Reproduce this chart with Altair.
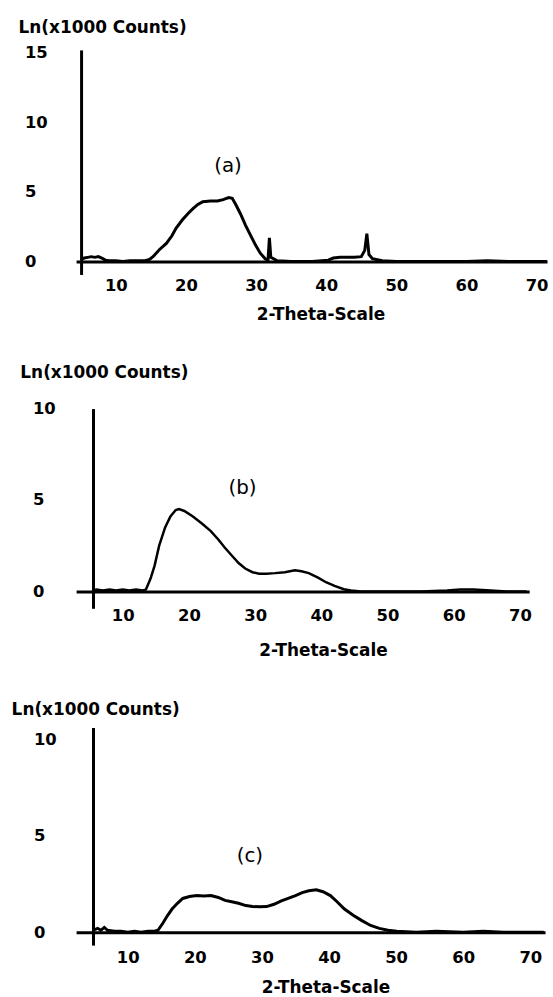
import altair as alt
import pandas as pd

# ---------------- data ----------------
a_theta = [5.0, 5.5, 6.0, 6.5, 7.0, 7.5, 8.0, 8.5, 9.0, 10.0, 11.0, 12.0, 13.0, 14.0,
           14.8, 15.3, 16.2, 17.2, 18.0, 18.6, 19.5, 20.3, 21.0, 21.7, 22.4, 23.5, 24.5,
           25.3, 26.1, 26.6, 27.1, 27.8, 28.5, 29.2, 29.9, 30.6, 31.3, 31.7, 31.9, 32.1,
           32.5, 33.0, 35.0, 38.0, 40.3, 41.0, 42.0, 43.0, 44.0, 45.0, 45.5, 45.8, 46.1,
           46.6, 48.0, 50.0, 55.0, 60.0, 63.0, 66.0, 71.5]
a_counts = [0.15, 0.25, 0.3, 0.35, 0.3, 0.35, 0.25, 0.1, 0.05, 0.05, 0.0, 0.05, 0.05, 0.05,
            0.15, 0.35, 0.85, 1.3, 1.85, 2.4, 3.0, 3.45, 3.8, 4.1, 4.3, 4.35, 4.35,
            4.45, 4.6, 4.55, 4.1, 3.4, 2.6, 1.9, 1.2, 0.6, 0.2, 0.1, 1.7, 0.3,
            0.2, 0.05, 0.0, 0.0, 0.1, 0.25, 0.3, 0.3, 0.3, 0.35, 0.8, 2.0, 0.5,
            0.2, 0.05, 0.0, 0.0, 0.0, 0.05, 0.0, 0.0]

b_theta = [5.5, 6.0, 7.0, 8.0, 9.0, 10.0, 11.0, 12.0, 13.0, 13.5, 14.2, 14.8, 15.5, 16.4,
           17.2, 18.0, 18.5, 19.3, 20.6, 22.0, 23.3, 24.4, 25.4, 26.5, 27.5, 28.5, 29.6,
           30.6, 31.7, 33.0, 34.5, 36.0, 37.0, 38.1, 39.5, 40.7, 42.0, 43.4, 44.5, 46.0,
           50.0, 55.0, 59.0, 61.0, 63.0, 65.6, 68.0, 71.0]
b_counts = [0.05, 0.1, 0.05, 0.1, 0.05, 0.1, 0.05, 0.1, 0.05, 0.1, 0.7, 1.4, 2.5, 3.5,
            4.1, 4.45, 4.5, 4.4, 4.1, 3.7, 3.3, 2.85, 2.4, 1.95, 1.55, 1.25, 1.05,
            0.97, 0.97, 1.0, 1.05, 1.15, 1.1, 1.0, 0.75, 0.5, 0.3, 0.12, 0.05, 0.0,
            0.0, 0.0, 0.05, 0.1, 0.1, 0.05, 0.0, 0.0]

c_theta = [4.8, 5.5, 6.0, 6.5, 7.0, 8.0, 9.0, 10.0, 11.0, 12.0, 13.0, 14.0, 14.5, 15.2,
           15.9, 16.6, 17.4, 18.2, 19.2, 20.3, 21.3, 22.4, 23.5, 24.5, 25.5, 26.5, 27.6,
           28.6, 29.7, 30.7, 31.8, 32.9, 33.9, 35.0, 36.0, 37.0, 38.1, 39.1, 40.2, 41.2,
           42.3, 43.6, 44.9, 46.2, 47.5, 48.8, 50.1, 53.0, 56.0, 60.0, 63.0, 66.0, 72.0]
c_counts = [0.1, 0.2, 0.1, 0.25, 0.1, 0.05, 0.05, 0.0, 0.05, 0.0, 0.05, 0.05, 0.1, 0.45,
            0.85, 1.2, 1.5, 1.75, 1.85, 1.9, 1.88, 1.9, 1.8, 1.65, 1.58, 1.5, 1.38,
            1.33, 1.32, 1.33, 1.45, 1.62, 1.75, 1.9, 2.05, 2.15, 2.2, 2.1, 1.9, 1.58,
            1.2, 0.88, 0.6, 0.35, 0.2, 0.1, 0.05, 0.0, 0.05, 0.0, 0.05, 0.0, 0.0]

panel_labels = ["(a)", "(b)", "(c)"]
label_theta = [26.0, 28.1, 28.2]
label_counts = [6.86, 5.65, 3.97]

x_ticks = [10, 20, 30, 40, 50, 60, 70]
y_ticks_a = [0, 5, 10, 15]
y_ticks_bc = [0, 5, 10]

x_title = "2-Theta-Scale"
y_title = "Ln(x1000 Counts)"

FONT = "DejaVu Sans"


def panel(theta, counts, lab, lx, ly, xdom, ydom, yticks, w, h, stroke_w,
          y_off, x_off, ylab_pad, x_lab_pad, ytx, yty, xtx, xty):
    df = pd.DataFrame({"theta": theta, "counts": counts})
    ldf = pd.DataFrame({"theta": [lx], "counts": [ly], "label": [lab]})
    xs = alt.Scale(domain=xdom, nice=False, zero=False)
    ys = alt.Scale(domain=ydom, nice=False, zero=False)
    xaxis = alt.Axis(values=x_ticks, title=x_title, grid=False, ticks=False, tickSize=0,
                     domainColor="black", domainWidth=3, offset=x_off,
                     labelFont=FONT, labelFontSize=16.5, labelFontWeight="bold",
                     labelColor="black", labelPadding=x_lab_pad,
                     titleFont=FONT, titleFontSize=17, titleFontWeight="bold",
                     titleColor="black", titleAlign="center", titleBaseline="alphabetic",
                     titleX=xtx, titleY=xty, labelFlush=False)
    yaxis = alt.Axis(values=yticks, title=y_title, grid=False, ticks=False, tickSize=0,
                     domainColor="black", domainWidth=3, offset=y_off,
                     labelFont=FONT, labelFontSize=16.5, labelFontWeight="bold",
                     labelColor="black", labelAlign="left", labelBaseline="middle",
                     labelPadding=ylab_pad, labelFlush=False,
                     titleFont=FONT, titleFontSize=17, titleFontWeight="bold",
                     titleColor="black", titleAngle=0, titleAlign="left",
                     titleBaseline="alphabetic", titleX=ytx, titleY=yty)
    line = alt.Chart(df).mark_line(color="black", strokeWidth=stroke_w).encode(
        x=alt.X("theta:Q", scale=xs, axis=xaxis),
        y=alt.Y("counts:Q", scale=ys, axis=yaxis),
    )
    text = alt.Chart(ldf).mark_text(font=FONT, fontSize=20, color="black",
                                    baseline="middle", align="center").encode(
        x=alt.X("theta:Q", scale=xs),
        y=alt.Y("counts:Q", scale=ys),
        text="label:N",
    )
    return alt.layer(line, text).properties(width=w, height=h)


pa = panel(a_theta, a_counts, panel_labels[0], label_theta[0], label_counts[0],
           [4.33, 71.5], [-0.93, 15.21], y_ticks_a, 474, 226, 3.0,
           -5, -13, 57, 16, -63.4, -18, 246, 58)
pb = panel(b_theta, b_counts, panel_labels[1], label_theta[1], label_counts[1],
           [2.95, 71.4], [-0.924, 10.0], y_ticks_bc, 456, 201, 2.5,
           -17, -17, 61, 16, -73.6, -31.5, 248.5, 65)
pc = panel(c_theta, c_counts, panel_labels[2], label_theta[2], label_counts[2],
           [2.30, 72.2], [-0.67, 10.62], y_ticks_bc, 472, 219, 3.0,
           -17, -13, 60, 18, -82.4, -13.5, 251, 61)

chart = alt.vconcat(pa, pb, pc, spacing=41).properties(
    padding={"left": 10.6, "top": 15, "right": 0, "bottom": 0},
    background="white",
).configure_view(stroke=None)

chart.save("out.html", embed_options={"renderer": "svg", "actions": False})
